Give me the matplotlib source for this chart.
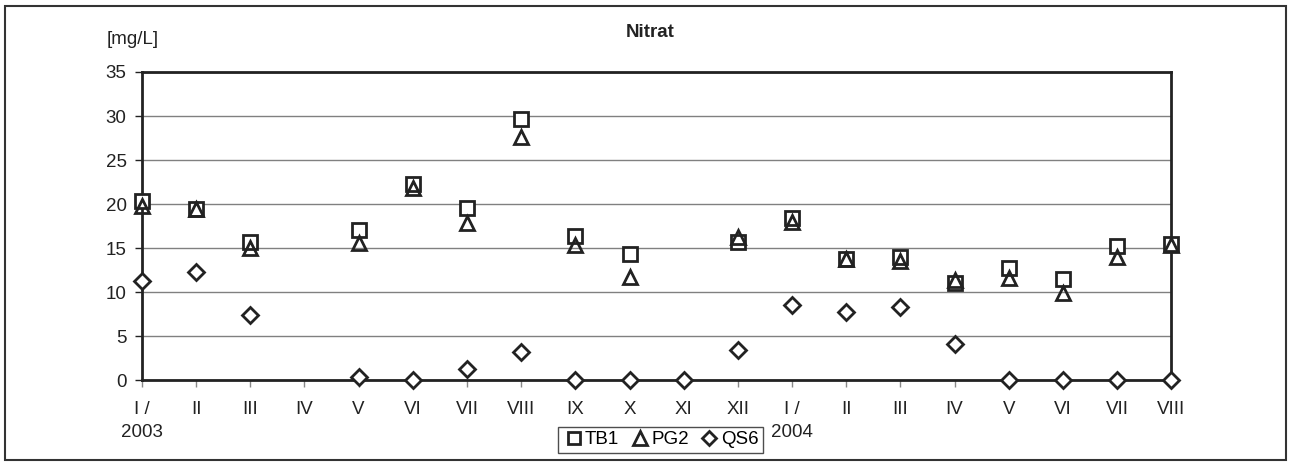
import matplotlib
matplotlib.use("Agg")
from matplotlib import pyplot as plt
from matplotlib.patches import Rectangle

months = ["I /\n2003", "II", "III", "IV", "V", "VI", "VII", "VIII", "IX", "X",
          "XI", "XII", "I /\n2004", "II", "III", "IV", "V", "VI", "VII", "VIII"]

nan = float("nan")
tb1 = [20.3, 19.4, 15.7, nan, 17.0, 22.3, 19.6, 29.7, 16.4, 14.3,
       nan, 15.7, 18.4, 13.8, 14.0, 11.0, 12.7, 11.5, 15.2, 15.5]
pg2 = [19.8, 19.4, 15.0, nan, 15.6, 21.8, 17.8, 27.6, 15.3, 11.7,
       nan, 16.2, 18.0, 13.8, 13.5, 11.4, 11.6, 9.9, 14.0, 15.3]
qs6 = [11.3, 12.3, 7.4, nan, 0.3, 0.0, 1.2, 3.2, 0.0, 0.0,
       0.0, 3.4, 8.5, 7.7, 8.3, 4.1, 0.0, 0.0, 0.0, 0.0]

plt.rcParams["font.family"] = ["Liberation Sans", "DejaVu Sans"]
fs = 13.5

fig = plt.figure(figsize=(12.9, 4.66), dpi=100)
ax = fig.add_axes([0.110, 0.1845, 0.798, 0.661])

x = list(range(len(months)))
ax.plot(x, tb1, ls="none", marker="s", ms=9.5, mfc="white", mec="#222222",
        mew=2, label="TB1", clip_on=False, zorder=3)
ax.plot(x, pg2, ls="none", marker="^", ms=10.5, mfc="none", mec="#222222",
        mew=2, label="PG2", clip_on=False, zorder=4)
ax.plot(x, qs6, ls="none", marker="D", ms=8, mfc="white", mec="#222222",
        mew=2, label="QS6", clip_on=False, zorder=3)

ax.set_xlim(0, len(months) - 1)
ax.set_ylim(0, 35)
ax.set_yticks(range(0, 36, 5))
ax.set_xticks(x)
ax.set_xticklabels(months, fontsize=fs, color="#222222", linespacing=1.5)
ax.tick_params(axis="y", labelsize=fs, colors="#222222", length=5, width=1, pad=6)
ax.tick_params(axis="x", length=5, width=1, color="#888888", pad=10)
ax.grid(axis="y", color="#808080", lw=1)
ax.set_axisbelow(True)
for s in ax.spines.values():
    s.set_linewidth(2)
    s.set_color("#222222")

fig.text(0.103, 0.915, "[mg/L]", fontsize=fs, ha="center", va="center", color="#222222")
fig.text(0.504, 0.93, "Nitrat", fontsize=fs, fontweight="bold", ha="center",
         va="center", color="#222222")

leg = fig.legend(loc="center", bbox_to_anchor=(0.512, 0.056), ncol=3,
                 frameon=True, fancybox=False, fontsize=fs, handletextpad=0.0,
                 columnspacing=0.5, handlelength=1.2, borderpad=0.25,
                 markerscale=0.9)
leg.get_frame().set_edgecolor("#222222")
leg.get_frame().set_linewidth(1)

fig.patches.append(Rectangle((0.004, 0.012), 0.993, 0.975, transform=fig.transFigure,
                             fill=False, ec="#333333", lw=1.5))

fig.savefig("out.png", dpi=100)
